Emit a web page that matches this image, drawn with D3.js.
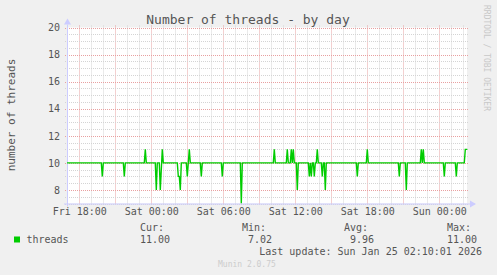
<!DOCTYPE html>
<html>
  <head>
    <meta charset="utf-8">
    <title>Number of threads - by day</title>
    <style>
      body { margin: 0; background: #f0f0f0; }
      svg { display: block; font-family: "DejaVu Sans Mono", monospace; }
      .grid-minor { stroke: #d4d4d4; stroke-dasharray: 1,1; }
      .grid-major { stroke: #e8a0a0; stroke-dasharray: 1,1; }
      .lbl { fill: #555; font-size: 10px; }
    </style>
  </head>

  <body>
    <div id='graph'></div>

    <script src="https://cdn.jsdelivr.net/npm/d3@7"></script>
    <script>

    // breakpoints of the 5 minute samples (line goes straight between them)
    var times = [
      "2026-01-23 16:55", "2026-01-23 19:50", "2026-01-23 19:55", "2026-01-23 20:00",
      "2026-01-23 21:40", "2026-01-23 21:45", "2026-01-23 21:50", "2026-01-23 23:25",
      "2026-01-23 23:30", "2026-01-23 23:35",
      "2026-01-24 00:20", "2026-01-24 00:25", "2026-01-24 00:30", "2026-01-24 00:40",
      "2026-01-24 00:45", "2026-01-24 00:55", "2026-01-24 01:00", "2026-01-24 02:10",
      "2026-01-24 02:15", "2026-01-24 02:20", "2026-01-24 02:25", "2026-01-24 02:30",
      "2026-01-24 02:55", "2026-01-24 03:00", "2026-01-24 03:05", "2026-01-24 03:10",
      "2026-01-24 03:15", "2026-01-24 04:05", "2026-01-24 04:10", "2026-01-24 04:15",
      "2026-01-24 05:50", "2026-01-24 05:55", "2026-01-24 06:00", "2026-01-24 07:25",
      "2026-01-24 07:30", "2026-01-24 07:35", "2026-01-24 10:10", "2026-01-24 10:15",
      "2026-01-24 10:20", "2026-01-24 11:15", "2026-01-24 11:20", "2026-01-24 11:25",
      "2026-01-24 11:35", "2026-01-24 11:40", "2026-01-24 11:45", "2026-01-24 11:50",
      "2026-01-24 11:55", "2026-01-24 12:05", "2026-01-24 12:10", "2026-01-24 12:15",
      "2026-01-24 13:05", "2026-01-24 13:10", "2026-01-24 13:15", "2026-01-24 13:20",
      "2026-01-24 13:25", "2026-01-24 13:30", "2026-01-24 13:35", "2026-01-24 13:40",
      "2026-01-24 13:45", "2026-01-24 13:50", "2026-01-24 13:55", "2026-01-24 14:10",
      "2026-01-24 14:15", "2026-01-24 14:20", "2026-01-24 14:25", "2026-01-24 14:30",
      "2026-01-24 14:35", "2026-01-24 17:05", "2026-01-24 17:10", "2026-01-24 17:15",
      "2026-01-24 17:55", "2026-01-24 18:00", "2026-01-24 18:05", "2026-01-24 20:35",
      "2026-01-24 20:40", "2026-01-24 20:45", "2026-01-24 21:10", "2026-01-24 21:15",
      "2026-01-24 21:20", "2026-01-24 22:25", "2026-01-24 22:30", "2026-01-24 22:35",
      "2026-01-24 22:40", "2026-01-24 22:45",
      "2026-01-25 00:20", "2026-01-25 00:25", "2026-01-25 00:30", "2026-01-25 01:20",
      "2026-01-25 01:25", "2026-01-25 01:30", "2026-01-25 02:05", "2026-01-25 02:10",
      "2026-01-25 02:20"
    ];

    var threads = [
      10, 10, 9, 10,
      10, 9, 10, 10,
      11, 10,
      10, 8, 10, 10,
      8, 11, 10, 10,
      9, 9, 8, 10,
      10, 9, 10, 11,
      10, 10, 9, 10,
      10, 9, 10, 10,
      7.02, 10, 10, 11,
      10, 10, 11, 10,
      10, 11, 10, 11,
      10, 10, 8, 10,
      10, 9, 10, 9,
      10, 10, 9, 10,
      10, 11, 10, 10,
      9, 10, 10, 8,
      10, 10, 9, 10,
      10, 11, 10, 10,
      9, 10, 10, 8,
      10, 10, 11, 10,
      11, 10,
      10, 9, 10, 10,
      9, 10, 10, 11,
      11
    ];

    var yTicks = [8, 10, 12, 14, 16, 18, 20];
    var xTickLabels = ["2026-01-23 18:00", "2026-01-24 00:00", "2026-01-24 06:00",
                       "2026-01-24 12:00", "2026-01-24 18:00", "2026-01-25 00:00"];

    var legendLabels = ["Cur:", "Min:", "Avg:", "Max:"];
    var legendValues = ["11.00", "7.02", "9.96", "11.00"];

    function render() {
      var width = 497;
      var height = 275;
      var left = 67, right = 467, top = 27.5, bottom = 203.5;

      var parse = d3.timeParse("%Y-%m-%d %H:%M");
      var data = times.map(function(t, i) { return { t: parse(t), v: threads[i] }; });

      var xScale = d3.scaleTime()
                    .domain([new Date(2026, 0, 23, 16, 58, 30), new Date(2026, 0, 25, 2, 18, 30)])
                    .range([left, right]);

      var yScale = d3.scaleLinear()
                    .domain([7, 20])
                    .range([bottom, top]);

      var svg = d3.select('#graph').html('')
                .append('svg')
                .attr("width", width)
                .attr("height", height);

      // canvas
      svg.append("rect")
        .attr("x", left).attr("y", top)
        .attr("width", right - left).attr("height", bottom - top)
        .attr("fill", "#fff");

      // grid
      var hours = d3.timeHour.range(xScale.domain()[0], xScale.domain()[1]);
      svg.selectAll(".vgrid")
        .data(hours)
        .enter()
        .append("line")
        .attr("class", function(d) { return d.getHours() % 3 == 0 ? "grid-major" : "grid-minor"; })
        .attr("x1", function(d) { return Math.round(xScale(d)) + 0.5; })
        .attr("x2", function(d) { return Math.round(xScale(d)) + 0.5; })
        .attr("y1", top - 2)
        .attr("y2", bottom + 2);

      var halves = d3.range(14, 41).map(function(d) { return d / 2; });
      svg.selectAll(".hgrid")
        .data(halves)
        .enter()
        .append("line")
        .attr("class", function(d) { return d % 2 == 0 ? "grid-major" : "grid-minor"; })
        .attr("x1", left - 2)
        .attr("x2", right + 2)
        .attr("y1", function(d) { return Math.round(yScale(d)) + 0.5; })
        .attr("y2", function(d) { return Math.round(yScale(d)) + 0.5; });

      // axes lines with arrows
      svg.append("line")
        .attr("x1", left + 0.5).attr("x2", left + 0.5)
        .attr("y1", bottom + 3).attr("y2", top - 3)
        .attr("stroke", "#ccccff");
      svg.append("path")
        .attr("d", "M" + (left - 3) + "," + (top - 3) + "L" + (left + 4) + "," + (top - 3) + "L" + (left + 0.5) + "," + (top - 9) + "Z")
        .attr("fill", "#ccccff");
      svg.append("line")
        .attr("x1", left - 3).attr("x2", right + 3)
        .attr("y1", bottom + 0.5).attr("y2", bottom + 0.5)
        .attr("stroke", "#ccccff");
      svg.append("path")
        .attr("d", "M" + (right + 3) + "," + (bottom - 3) + "L" + (right + 3) + "," + (bottom + 4) + "L" + (right + 9) + "," + (bottom + 0.5) + "Z")
        .attr("fill", "#ccccff");

      // data line
      svg.append("clipPath").attr("id", "clip")
        .append("rect")
        .attr("x", left).attr("y", top - 1)
        .attr("width", right - left + 1).attr("height", bottom - top + 2);

      var line = d3.line()
        .x(function(d) { return xScale(d.t); })
        .y(function(d) { return yScale(d.v); });

      svg.append("path")
        .datum(data)
        .attr("clip-path", "url(#clip)")
        .attr("d", line)
        .attr("fill", "none")
        .attr("stroke", "#00cc00")
        .attr("stroke-width", 1.4);

      // tick labels
      var yAxis = d3.axisLeft(yScale)
        .tickValues(yTicks)
        .tickSize(0)
        .tickPadding(0)
        .tickFormat(d3.format("d"));
      var gy = svg.append("g")
        .attr("transform", "translate(" + 60 + ",0)")
        .call(yAxis);
      gy.select(".domain").remove();
      gy.selectAll("text").attr("class", "lbl").attr("fill", null)
        .style("font-family", "DejaVu Sans Mono").style("font-size", "10px");

      var fmt = d3.timeFormat("%a %H:%M");
      var xAxis = d3.axisBottom(xScale)
        .tickValues(xTickLabels.map(parse))
        .tickSize(0)
        .tickPadding(0)
        .tickFormat(fmt);
      var gx = svg.append("g")
        .attr("transform", "translate(0," + 208 + ")")
        .call(xAxis);
      gx.select(".domain").remove();
      gx.selectAll("text").attr("class", "lbl").attr("fill", null)
        .style("font-family", "DejaVu Sans Mono").style("font-size", "10px");

      // titles
      svg.append("text")
        .attr("x", 248).attr("y", 24)
        .attr("text-anchor", "middle")
        .attr("fill", "#555")
        .style("font-size", "13px")
        .text("Number of threads - by day");

      svg.append("text")
        .attr("transform", "translate(15,115) rotate(-90)")
        .attr("text-anchor", "middle")
        .attr("fill", "#555")
        .style("font-size", "11px")
        .text("number of threads");

      svg.append("text")
        .attr("transform", "translate(484,5) rotate(90)")
        .attr("fill", "#c8c8c8")
        .style("font-size", "8px")
        .text("RRDTOOL / TOBI OETIKER");

      // legend
      svg.append("rect")
        .attr("x", 14).attr("y", 236.5)
        .attr("width", 6).attr("height", 6)
        .attr("fill", "#00cc00");
      svg.append("text")
        .attr("class", "lbl")
        .attr("x", 26.5).attr("y", 243)
        .text("threads");

      var colEnd = [170, 272, 374, 477];
      svg.selectAll(".leglbl")
        .data(legendLabels)
        .enter()
        .append("text")
        .attr("class", "lbl")
        .attr("x", function(d, i) { return colEnd[i] - (i == 0 ? 6 : 6); })
        .attr("y", 231)
        .attr("text-anchor", "end")
        .text(function(d) { return d; });
      svg.selectAll(".legval")
        .data(legendValues)
        .enter()
        .append("text")
        .attr("class", "lbl")
        .attr("x", function(d, i) { return colEnd[i]; })
        .attr("y", 243)
        .attr("text-anchor", "end")
        .text(function(d) { return d; });

      svg.append("text")
        .attr("class", "lbl")
        .attr("x", 482).attr("y", 255)
        .attr("text-anchor", "end")
        .text("Last update: Sun Jan 25 02:10:01 2026");

      svg.append("text")
        .attr("x", 218).attr("y", 267)
        .attr("fill", "#cccccc")
        .style("font-size", "8px")
        .text("Munin 2.0.75");
    };
    render();

    </script>
  </body>
</html>
